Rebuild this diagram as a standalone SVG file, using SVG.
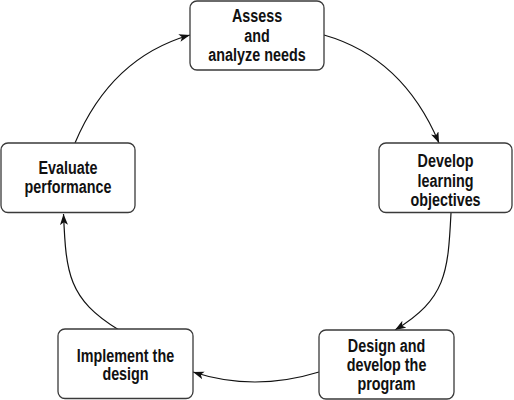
<svg xmlns="http://www.w3.org/2000/svg" width="514" height="400" viewBox="0 0 514 400">
<style>
.box{fill:#fff;stroke:#3a3a3a;stroke-width:1.3}
.lbl{font-family:"Liberation Sans",Arial,sans-serif;font-weight:bold;font-size:17.5px;fill:#111;text-anchor:middle}
.con{fill:none;stroke:#111;stroke-width:1.2;marker-end:url(#ah)}
</style>
<defs>
<marker id="ah" markerUnits="userSpaceOnUse" markerWidth="12" markerHeight="10" refX="11" refY="4" orient="auto">
<path d="M0,0 L11,4 L0,8 L2.8,4 z" fill="#111"/>
</marker>
</defs>
<rect width="514" height="400" fill="#fff"/>
<g id="connectors">
<path class="con" d="M324,35 Q403,57.5 439,143"/>
<path class="con" d="M451,213 C448,273 446,299 395,330"/>
<path class="con" d="M319,372 Q254,392 193,372"/>
<path class="con" d="M119,330 C68,299 66,273 63.5,214"/>
<path class="con" d="M75,143 Q111,57.5 190,35"/>
</g>
<g id="assess">
<rect class="box" x="190" y="1" width="134" height="69" rx="7"/>
<g transform="translate(257 0) scale(0.82 1)">
<text class="lbl" x="0" y="22.5">Assess</text>
<text class="lbl" x="0" y="42">and</text>
<text class="lbl" x="0" y="61.5">analyze needs</text>
</g>
</g>
<g id="develop">
<rect class="box" x="379" y="143" width="133" height="69.5" rx="7"/>
<g transform="translate(445.5 0) scale(0.82 1)">
<text class="lbl" x="0" y="167.3">Develop</text>
<text class="lbl" x="0" y="187">learning</text>
<text class="lbl" x="0" y="206">objectives</text>
</g>
</g>
<g id="design">
<rect class="box" x="319" y="330" width="135" height="69" rx="7"/>
<g transform="translate(386.5 0) scale(0.82 1)">
<text class="lbl" x="0" y="351.7">Design and</text>
<text class="lbl" x="0" y="371.5">develop the</text>
<text class="lbl" x="0" y="390">program</text>
</g>
</g>
<g id="implement">
<rect class="box" x="58" y="329" width="135" height="69.5" rx="7"/>
<g transform="translate(125.5 0) scale(0.82 1)">
<text class="lbl" x="0" y="361.7">Implement the</text>
<text class="lbl" x="0" y="380">design</text>
</g>
</g>
<g id="evaluate">
<rect class="box" x="1" y="143" width="134" height="69.5" rx="7"/>
<g transform="translate(68 0) scale(0.82 1)">
<text class="lbl" x="0" y="174.3">Evaluate</text>
<text class="lbl" x="0" y="193.3">performance</text>
</g>
</g>
</svg>
